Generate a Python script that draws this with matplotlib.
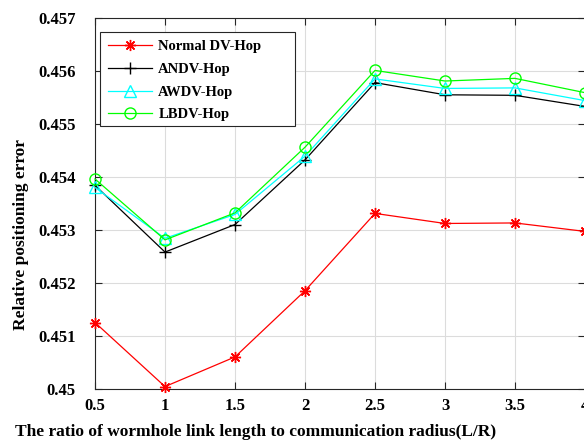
import matplotlib
matplotlib.use("Agg")
import matplotlib.pyplot as plt
from matplotlib.patches import Rectangle

x = [0.5, 1, 1.5, 2, 2.5, 3, 3.5, 4]
normal_dv = [0.45125, 0.45004, 0.45060, 0.45185, 0.45331, 0.45312, 0.45313, 0.45297]
andv = [0.45384, 0.45258, 0.45310, 0.45432, 0.45578, 0.45555, 0.45554, 0.45533]
awdv = [0.45380, 0.45284, 0.45329, 0.45439, 0.45585, 0.45567, 0.45568, 0.45544]
lbdv = [0.45396, 0.45281, 0.45332, 0.45456, 0.45601, 0.45581, 0.45586, 0.45559]
labels = ["Normal DV-Hop", "ANDV-Hop", "AWDV-Hop", "LBDV-Hop"]
xticks = [0.5, 1, 1.5, 2, 2.5, 3, 3.5, 4]
xtick_labels = ["0.5", "1", "1.5", "2", "2.5", "3", "3.5", "4"]
yticks = [0.45, 0.451, 0.452, 0.453, 0.454, 0.455, 0.456, 0.457]
ytick_labels = ["0.45", "0.451", "0.452", "0.453", "0.454", "0.455", "0.456", "0.457"]

plt.rcParams['font.family'] = ['Liberation Serif', 'DejaVu Serif']
plt.rcParams['font.weight'] = 'bold'

fig = plt.figure(figsize=(5.84, 4.46), dpi=100)
W, H = 584, 446
ax_l, ax_r, ax_t, ax_b = 95, 585, 18, 388.7
ax = fig.add_axes([ax_l / W, 1 - ax_b / H, (ax_r - ax_l) / W, (ax_b - ax_t) / H])

ax.plot(x, normal_dv, color='#ff0000', lw=0.9, marker=(8, 2, 0), ms=8, mew=1.0, label=labels[0], clip_on=False, zorder=3)
ax.plot(x, andv, color='black', lw=0.9, marker='+', ms=9, mew=1.0, label=labels[1], clip_on=False, zorder=3)
ax.plot(x, awdv, color='#00ffff', lw=0.9, marker='^', ms=8, mfc='none', mew=1.0, label=labels[2], clip_on=False, zorder=3)
ax.plot(x, lbdv, color='#00ff00', lw=0.9, marker='o', ms=8, mfc='none', mew=1.0, label=labels[3], clip_on=False, zorder=3)

ax.set_xlim(0.5, 4)
ax.set_ylim(0.45, 0.457)
ax.set_xticks(xticks)
ax.set_xticklabels(xtick_labels, fontsize=12, fontweight='bold')
ax.set_yticks(yticks)
ax.set_yticklabels(ytick_labels, fontsize=12, fontweight='bold')
ax.tick_params(axis='both', direction='in', length=5, width=0.8, top=True, right=True, color='#262626')
ax.tick_params(axis='y', pad=14)
ax.tick_params(axis='x', pad=7)
ax.grid(True, color='#dcdcdc', lw=0.8)
for s in ax.spines.values():
    s.set_color('#262626')
    s.set_linewidth(0.8)

ax.set_xlabel("The ratio of wormhole link length to communication radius(L/R)", fontsize=12.5, fontweight='bold', labelpad=9)
ax.xaxis.set_label_coords((255.5 - ax_l) / (ax_r - ax_l), -(432 - ax_b) / (ax_b - ax_t), transform=ax.transAxes)
ax.xaxis.label.set_va('center')
ax.set_ylabel("Relative positioning error", fontsize=12.5, fontweight='bold')
ax.yaxis.set_label_coords(-(ax_l - 21) / (ax_r - ax_l), 1 - (235 - ax_t) / (ax_b - ax_t), transform=ax.transAxes)
ax.yaxis.label.set_va('center')

# legend frame (MATLAB-style, wider than its content)
lx0, ly0, lx1, ly1 = 100, 32, 295, 126
frame = Rectangle(((lx0 - ax_l) / (ax_r - ax_l), 1 - (ly1 - ax_t) / (ax_b - ax_t)),
                  (lx1 - lx0) / (ax_r - ax_l), (ly1 - ly0) / (ax_b - ax_t),
                  transform=ax.transAxes, facecolor='white', edgecolor='#262626', lw=0.8, zorder=4)
ax.add_patch(frame)
leg = ax.legend(loc='upper left', bbox_to_anchor=((lx0 - ax_l) / (ax_r - ax_l), 1 - (ly0 - ax_t) / (ax_b - ax_t)),
                prop={'family': 'Liberation Serif', 'weight': 'bold', 'size': 10.5},
                handlelength=3.0, handletextpad=0.45, borderpad=0.55, labelspacing=0.65,
                frameon=False, borderaxespad=0)
leg.set_zorder(5)

fig.savefig("out.png", dpi=100)
